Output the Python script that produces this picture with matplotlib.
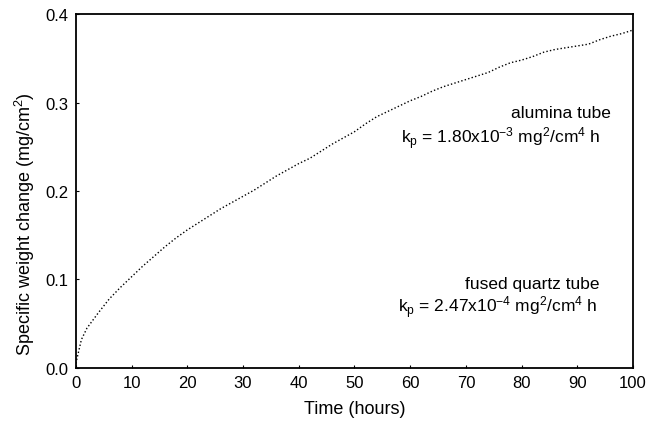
import numpy as np
import matplotlib
matplotlib.use("Agg")
import matplotlib.pyplot as plt

plt.rcParams["font.family"] = ["Liberation Sans", "DejaVu Sans"]
plt.rcParams["mathtext.fontset"] = "custom"
plt.rcParams["mathtext.rm"] = "Liberation Sans"
plt.rcParams["mathtext.it"] = "Liberation Sans"

# lectura de la curva (tubo de alúmina)
tiempo_h = [0, 1, 2, 4, 6, 8, 10, 12, 14, 16, 18, 20, 22, 24, 26, 28, 30, 32,
            34, 36, 38, 40, 42, 44, 46, 48, 50, 52, 54, 56, 58, 60, 62, 64,
            66, 68, 70, 72, 74, 76, 78, 80, 82, 84, 86, 88, 90, 92, 94, 96,
            98, 100]
ganancia = [0.005, 0.032, 0.045, 0.062, 0.078, 0.091, 0.103, 0.115, 0.126,
            0.137, 0.147, 0.156, 0.164, 0.172, 0.180, 0.187, 0.194, 0.201,
            0.209, 0.217, 0.224, 0.231, 0.237, 0.245, 0.253, 0.260, 0.267,
            0.276, 0.284, 0.290, 0.296, 0.302, 0.307, 0.313, 0.318, 0.322,
            0.326, 0.330, 0.334, 0.340, 0.345, 0.348, 0.352, 0.357, 0.360,
            0.362, 0.364, 0.366, 0.371, 0.375, 0.378, 0.382]

xticks = [0, 10, 20, 30, 40, 50, 60, 70, 80, 90, 100]
yticks = [0.0, 0.1, 0.2, 0.3, 0.4]

fig = plt.figure(figsize=(6.48, 4.31), dpi=100)
ax = fig.add_axes([0.117, 0.144, 0.860, 0.821])

ax.plot(tiempo_h, ganancia, ls=(0, (1, 1.6)), lw=1.0, color="black")

ax.set_xlim(0, 100)
ax.set_ylim(0, 0.4)
ax.set_xticks(xticks)
ax.set_yticks(yticks)
ax.set_yticklabels([f"{v:.1f}" for v in yticks])
ax.tick_params(direction="in", length=2, width=0.8, labelsize=12, pad=5)
for s in ax.spines.values():
    s.set_linewidth(1.3)

ax.set_xlabel("Time (hours)", fontsize=13, labelpad=7)
ax.set_ylabel("Specific weight change (mg/cm$^2$)", fontsize=13)
ax.yaxis.set_label_coords(-0.07, 0.41)

fs = 12.5
ax.text(96.0, 0.289, "alumina tube", ha="right", va="center", fontsize=fs)
ax.text(94.2, 0.260, r"k$_\mathrm{p}$ = 1.80x10$^{-3}$ mg$^2$/cm$^4$ h",
        ha="right", va="center", fontsize=fs)
ax.text(94.0, 0.095, "fused quartz tube", ha="right", va="center", fontsize=fs)
ax.text(93.6, 0.069, r"k$_\mathrm{p}$ = 2.47x10$^{-4}$ mg$^2$/cm$^4$ h",
        ha="right", va="center", fontsize=fs)

fig.savefig("out.png", dpi=100)
